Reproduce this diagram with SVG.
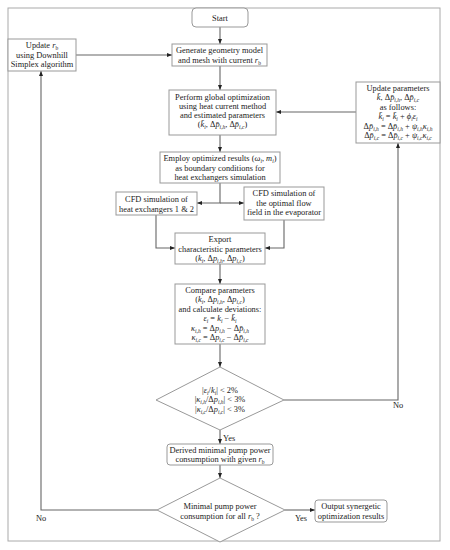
<svg xmlns="http://www.w3.org/2000/svg" width="450" height="550" viewBox="0 0 450 550">
<style>
text{font-family:"Liberation Serif","DejaVu Serif",serif;font-size:8.4px;fill:#222;text-anchor:middle}
.i{font-style:italic}
.s{font-size:5.5px;baseline-shift:-1.5px}
.box{fill:#fff;stroke:#999;stroke-width:1}
.frame{fill:#fff;stroke:#aaa;stroke-width:1}
.ln{fill:none;stroke:#666;stroke-width:1.1}
.lbl{text-anchor:start}
</style>
<defs>
<marker id="ah" viewBox="0 0 6 6" refX="6" refY="3" markerWidth="5" markerHeight="5" orient="auto" markerUnits="userSpaceOnUse">
<path d="M0,0.6 L6,3 L0,5.4 z" fill="#222"/>
</marker>
</defs>
<rect class="frame" x="8" y="8" width="432" height="533"/>

<g id="connectors">
<path class="ln" d="M220,27 V44" marker-end="url(#ah)"/>
<path class="ln" d="M220,66 V90" marker-end="url(#ah)"/>
<path class="ln" d="M220,135 V152" marker-end="url(#ah)"/>
<path class="ln" d="M220,183 V203 H197" marker-end="url(#ah)"/>
<path class="ln" d="M220,203 H244" marker-end="url(#ah)"/>
<path class="ln" d="M156,215 V248 H175" marker-end="url(#ah)"/>
<path class="ln" d="M284,220 V248 H265" marker-end="url(#ah)"/>
<path class="ln" d="M220,264 V284" marker-end="url(#ah)"/>
<path class="ln" d="M220,344 V367" marker-end="url(#ah)"/>
<path class="ln" d="M220,430 V444" marker-end="url(#ah)"/>
<path class="ln" d="M284,400 H398 V143" marker-end="url(#ah)"/>
<path class="ln" d="M356,112 H276" marker-end="url(#ah)"/>
<path class="ln" d="M220,465 V478" marker-end="url(#ah)"/>
<path class="ln" d="M285,510 H315" marker-end="url(#ah)"/>
<path class="ln" d="M157,510 H41 V71" marker-end="url(#ah)"/>
<path class="ln" d="M76,55 H172" marker-end="url(#ah)"/>
<text class="lbl" x="223" y="441">Yes</text>
<text x="398" y="408">No</text>
<text x="301" y="521">Yes</text>
<text x="41" y="521">No</text>
</g>

<g id="start">
<rect class="box" x="192" y="8" width="56" height="19" rx="4"/>
<text x="220" y="20.5">Start</text>
</g>

<g id="generate">
<rect class="box" x="172" y="44" width="95" height="22"/>
<text x="219.5" y="53">Generate geometry model</text>
<text x="219.5" y="62.5">and mesh with current <tspan class="i">r</tspan><tspan class="s">b</tspan></text>
</g>

<g id="update-rb">
<rect class="box" x="8" y="39" width="68" height="32"/>
<text x="42" y="48">Update <tspan class="i">r</tspan><tspan class="s">b</tspan></text>
<text x="42" y="57.5">using Downhill</text>
<text x="42" y="67">Simplex algorithm</text>
</g>

<g id="perform">
<rect class="box" x="169" y="90" width="107" height="45"/>
<text x="222.5" y="99.5">Perform global optimization</text>
<text x="222.5" y="108.5">using heat current method</text>
<text x="222.5" y="117.5">and estimated parameters</text>
<text x="222.5" y="127">(<tspan class="i">k̄</tspan><tspan class="s i">i</tspan>, Δ<tspan class="i">p̄</tspan><tspan class="s i">i,h</tspan>, Δ<tspan class="i">p̄</tspan><tspan class="s i">i,c</tspan>)</text>
</g>

<g id="update-params">
<rect class="box" x="356" y="82" width="84" height="61"/>
<text x="398" y="90.5">Update parameters</text>
<text x="398" y="100"><tspan class="i">k̄</tspan>, Δ<tspan class="i">p̄</tspan><tspan class="s i">i,h</tspan>, Δ<tspan class="i">p̄</tspan><tspan class="s i">i,c</tspan></text>
<text x="398" y="109.5">as follows:</text>
<text x="398" y="119"><tspan class="i">k̄</tspan><tspan class="s i">i</tspan> = <tspan class="i">k̄</tspan><tspan class="s i">i</tspan> + <tspan class="i">ϕ</tspan><tspan class="s i">i</tspan><tspan class="i">ε</tspan><tspan class="s i">i</tspan></text>
<text x="398" y="128.5">Δ<tspan class="i">p̄</tspan><tspan class="s i">i,h</tspan> = Δ<tspan class="i">p̄</tspan><tspan class="s i">i,h</tspan> + <tspan class="i">ψ</tspan><tspan class="s i">i,h</tspan><tspan class="i">κ</tspan><tspan class="s i">i,h</tspan></text>
<text x="398" y="138">Δ<tspan class="i">p̄</tspan><tspan class="s i">i,c</tspan> = Δ<tspan class="i">p̄</tspan><tspan class="s i">i,c</tspan> + <tspan class="i">ψ</tspan><tspan class="s i">i,c</tspan><tspan class="i">κ</tspan><tspan class="s i">i,c</tspan></text>
</g>

<g id="employ">
<rect class="box" x="160" y="152" width="120" height="31"/>
<text x="220" y="161">Employ optimized results (<tspan class="i">ω</tspan><tspan class="s i">i</tspan>, <tspan class="i">m</tspan><tspan class="s i">i</tspan>)</text>
<text x="220" y="170.5">as boundary conditions for</text>
<text x="220" y="180">heat exchangers simulation</text>
</g>

<g id="cfd1">
<rect class="box" x="116" y="192" width="81" height="23"/>
<text x="156.5" y="202">CFD simulation of</text>
<text x="156.5" y="211.5">heat exchangers 1 &amp; 2</text>
</g>

<g id="cfd2">
<rect class="box" x="244" y="187" width="80" height="33"/>
<text x="284" y="196">CFD simulation of</text>
<text x="284" y="205.5">the optimal flow</text>
<text x="284" y="215">field in the evaporator</text>
</g>

<g id="export">
<rect class="box" x="175" y="233" width="90" height="31"/>
<text x="220" y="242">Export</text>
<text x="220" y="251.5">characteristic parameters</text>
<text x="220" y="261">(<tspan class="i">k</tspan><tspan class="s i">i</tspan>, Δ<tspan class="i">p</tspan><tspan class="s i">i,h</tspan>, Δ<tspan class="i">p</tspan><tspan class="s i">i,c</tspan>)</text>
</g>

<g id="compare">
<rect class="box" x="175" y="284" width="90" height="60"/>
<text x="220" y="292.5">Compare parameters</text>
<text x="220" y="302">(<tspan class="i">k</tspan><tspan class="s i">i</tspan>, Δ<tspan class="i">p</tspan><tspan class="s i">i,h</tspan>, Δ<tspan class="i">p</tspan><tspan class="s i">i,c</tspan>)</text>
<text x="220" y="311.5">and calculate deviations:</text>
<text x="220" y="321"><tspan class="i">ε</tspan><tspan class="s i">i</tspan> = <tspan class="i">k</tspan><tspan class="s i">i</tspan> − <tspan class="i">k̄</tspan><tspan class="s i">i</tspan></text>
<text x="220" y="330.5"><tspan class="i">κ</tspan><tspan class="s i">i,h</tspan> = Δ<tspan class="i">p</tspan><tspan class="s i">i,h</tspan> − Δ<tspan class="i">p̄</tspan><tspan class="s i">i,h</tspan></text>
<text x="220" y="340"><tspan class="i">κ</tspan><tspan class="s i">i,c</tspan> = Δ<tspan class="i">p</tspan><tspan class="s i">i,c</tspan> − Δ<tspan class="i">p̄</tspan><tspan class="s i">i,c</tspan></text>
</g>

<g id="check-deviation">
<polygon class="box" points="220,367 284,400 220,430 156,400"/>
<text x="220" y="392.5">|<tspan class="i">ε</tspan><tspan class="s i">i</tspan>/<tspan class="i">k</tspan><tspan class="s i">i</tspan>| &lt; 2%</text>
<text x="220" y="402">|<tspan class="i">κ</tspan><tspan class="s i">i,h</tspan>/Δ<tspan class="i">p</tspan><tspan class="s i">i,h</tspan>| &lt; 3%</text>
<text x="220" y="411.5">|<tspan class="i">κ</tspan><tspan class="s i">i,c</tspan>/Δ<tspan class="i">p</tspan><tspan class="s i">i,c</tspan>| &lt; 3%</text>
</g>

<g id="derived">
<rect class="box" x="167" y="444" width="106" height="21" rx="3"/>
<text x="220" y="452.5">Derived minimal pump power</text>
<text x="220" y="462">consumption with given <tspan class="i">r</tspan><tspan class="s">b</tspan></text>
</g>

<g id="check-all">
<polygon class="box" points="220,478 285,510 220,542 157,510"/>
<text x="220" y="509">Minimal pump power</text>
<text x="220" y="518.5">consumption for all <tspan class="i">r</tspan><tspan class="s">b</tspan> ?</text>
</g>

<g id="output">
<rect class="box" x="315" y="500" width="72" height="22" rx="3"/>
<text x="351" y="509">Output synergetic</text>
<text x="351" y="518.5">optimization results</text>
</g>
</svg>
